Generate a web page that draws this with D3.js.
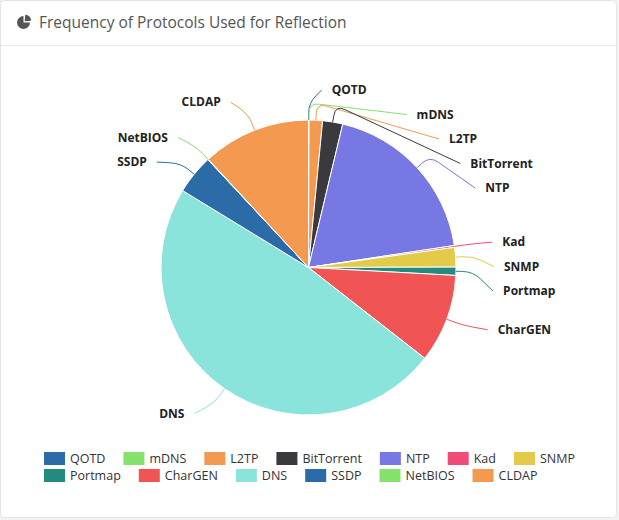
<!DOCTYPE html>
<html>
<head>
<meta charset="utf-8">
<script src="https://cdn.jsdelivr.net/npm/d3@7"></script>
<style>
  html, body { margin: 0; padding: 0; background: #f3f3f3; }
  #vis1 { width: 619px; height: 520px; }
  text { font-family: "Open Sans", "DejaVu Sans", sans-serif; }
</style>
</head>
<body>
<div id="vis1"></div>
<script>
var title = "Frequency of Protocols Used for Reflection";
var protocols = ["QOTD","mDNS","L2TP","BitTorrent","NTP","Kad","SNMP","Portmap","CharGEN","DNS","SSDP","NetBIOS","CLDAP"];
var shares = [0.03, 0.03, 1.47, 2.2, 18.9, 0.2, 2.14, 0.9, 9.7, 48.2, 4.33, 0.05, 11.9];
var palette = ["#2b6ca8","#85e26c","#f39a50","#39393e","#7778e3","#ef4c7a","#e2cb48","#248a80","#f05454","#8ae4dc"];

var w = 619, h = 520;
var cx = 308.5, cy = 267.5, r = 147.5;
var len1 = 30, len2 = 18, bendLen = 17, lineGap = 10, labelH = 24.5;

gen_vis();

function gen_vis()
{
	var svg = d3.select("#vis1")
		.append("svg")
		.attr("width", w)
		.attr("height", h);

	// panel + header
	svg.append("rect")
		.attr("x", 0.5).attr("y", 0.5)
		.attr("width", 616).attr("height", 517)
		.attr("rx", 4)
		.attr("fill", "#fff")
		.attr("stroke", "#e4e4e4");
	svg.append("line")
		.attr("x1", 1).attr("x2", 616)
		.attr("y1", 45.5).attr("y2", 45.5)
		.attr("stroke", "#ebebeb");

	drawIcon(svg.append("g").attr("transform", "translate(23.5,22.5)"));

	svg.append("text")
		.attr("x", 39).attr("y", 28)
		.attr("font-size", 15.5)
		.attr("fill", "#555")
		.text(title);

	var color = d3.scaleOrdinal().domain(protocols).range(palette);
	var pie = d3.pie().sort(null).value(function(d){ return d; });
	var arcs = pie(shares);
	var arc = d3.arc().innerRadius(0).outerRadius(r);

	var g = svg.append("g");
	g.selectAll("path.slice")
		.data(arcs)
		.enter()
		.append("path")
		.attr("class", "slice")
		.attr("transform", "translate(" + cx + "," + cy + ")")
		.attr("d", arc)
		.attr("fill", function(d, i){ return color(protocols[i]); })
		.attr("stroke", "#fff")
		.attr("stroke-width", 1);

	var labels = layoutLabels(arcs);

	g.selectAll("path.guide")
		.data(labels)
		.enter()
		.append("path")
		.attr("class", "guide")
		.attr("fill", "none")
		.attr("stroke", function(d){ return color(d.name); })
		.attr("stroke-width", 1)
		.attr("d", function(d){ return guidePath(d); });

	g.selectAll("text.lbl")
		.data(labels)
		.enter()
		.append("text")
		.attr("class", "lbl")
		.attr("x", function(d){ return d.x; })
		.attr("y", function(d){ return d.y; })
		.attr("dy", "0.35em")
		.attr("text-anchor", function(d){ return d.dir > 0 ? "start" : "end"; })
		.attr("font-size", 12)
		.attr("font-weight", "bold")
		.attr("fill", "#222")
		.text(function(d){ return d.name; });

	drawLegend(svg, color);
}

// labels stacked per side, x pulled onto an ellipse like echarts does
function layoutLabels(arcs)
{
	var list = arcs.map(function(a, i){
		var mid = (a.startAngle + a.endAngle) / 2;
		var sx = Math.sin(mid), sy = -Math.cos(mid);
		var dir = sx < 0 ? -1 : 1;
		return {
			name: protocols[i], sx: sx, sy: sy, dir: dir,
			x: cx + (r + len1) * sx + dir * (len2 + 5),
			y: cy + (r + len1) * sy
		};
	});

	[1, -1].forEach(function(dir){
		var side = list.filter(function(d){ return d.dir === dir; });
		side.sort(function(a, b){ return a.y - b.y; });
		var lastBottom = -Infinity, adjusted = false;
		side.forEach(function(d){
			var top = d.y - labelH / 2;
			if (top < lastBottom) { d.y += lastBottom - top; adjusted = true; }
			lastBottom = d.y + labelH / 2;
		});
		if (!adjusted) return;
		var rA = r + len1;
		[side.filter(function(d){ return d.y < cy; }), side.filter(function(d){ return d.y >= cy; })]
			.forEach(function(semi){
				if (!semi.length) return;
				var far = semi.reduce(function(a, b){ return Math.abs(b.y - cy) > Math.abs(a.y - cy) ? b : a; });
				var fdy = Math.abs(far.y - cy);
				var fdx = Math.abs(far.x - cx) - len2;
				var rB = fdx < rA ? Math.sqrt(fdy * fdy / (1 - fdx * fdx / (rA * rA))) : rA;
				semi.forEach(function(d){
					var dy = Math.abs(d.y - cy);
					var dx = Math.sqrt(Math.max(0, 1 - dy * dy / (rB * rB))) * rA;
					d.x = cx + d.dir * (dx + len2);
				});
			});
	});
	return list;
}

function guidePath(d)
{
	var p0 = [cx + r * d.sx, cy + r * d.sy];
	var p1 = [cx + (r + bendLen) * d.sx, cy + (r + bendLen) * d.sy];
	var p2 = [d.x - d.dir * lineGap, d.y];
	var l1 = Math.hypot(p0[0] - p1[0], p0[1] - p1[1]);
	var l2 = Math.hypot(p2[0] - p1[0], p2[1] - p1[1]);
	var m = Math.min(l1, l2) * 0.6;
	var a = [p1[0] + (p0[0] - p1[0]) * m / l1, p1[1] + (p0[1] - p1[1]) * m / l1];
	var b = [p1[0] + (p2[0] - p1[0]) * m / l2, p1[1] + (p2[1] - p1[1]) * m / l2];
	var path = d3.path();
	path.moveTo(p0[0], p0[1]);
	path.lineTo(a[0], a[1]);
	path.quadraticCurveTo(p1[0], p1[1], b[0], b[1]);
	path.lineTo(p2[0], p2[1]);
	return path.toString();
}

function drawLegend(svg, color)
{
	var sw = 21, sh = 13, textGap = 5, itemGap = 18, rowH = 17, maxW = 560;
	var lg = svg.append("g");
	var items = lg.selectAll("g.item")
		.data(protocols)
		.enter()
		.append("g")
		.attr("class", "item");
	items.append("rect")
		.attr("width", sw).attr("height", sh)
		.attr("y", -sh / 2)
		.attr("fill", function(d){ return color(d); });
	items.append("text")
		.attr("x", sw + textGap)
		.attr("dy", "0.35em")
		.attr("font-size", 12.5)
		.attr("fill", "#333")
		.text(function(d){ return d; });

	// wrap into rows, rows left aligned, block centered
	var x = 0, row = 0, rowW = [0], pos = [];
	items.each(function(){
		var iw = sw + textGap + d3.select(this).select("text").node().getComputedTextLength();
		if (x > 0 && x + iw > maxW) { row++; x = 0; rowW.push(0); }
		pos.push([x, row]);
		rowW[row] = x + iw;
		x += iw + itemGap;
	});
	var left = (w - d3.max(rowW)) / 2;
	items.attr("transform", function(d, i){
		return "translate(" + (left + pos[i][0]) + "," + (458.5 + pos[i][1] * rowH) + ")";
	});
}

function drawIcon(g)
{
	var a = d3.arc().innerRadius(0).outerRadius(6.5);
	g.append("path")
		.attr("d", a({startAngle: Math.PI / 2, endAngle: 2 * Math.PI}))
		.attr("fill", "#555");
	g.append("path")
		.attr("transform", "translate(1.2,-1.2)")
		.attr("d", a({startAngle: 0.08, endAngle: Math.PI / 2 - 0.08}))
		.attr("fill", "#555");
}
</script>
</body>
</html>
